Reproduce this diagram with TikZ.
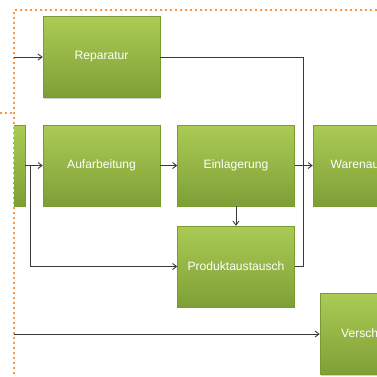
\documentclass[tikz,border=0pt]{standalone}
\usepackage{fontspec}
\setmainfont{Liberation Sans}
\usetikzlibrary{arrows.meta,shadows}
\definecolor{gtop}{HTML}{ABCB55}
\definecolor{gbot}{HTML}{7E9F36}
\definecolor{gedge}{HTML}{779A33}
\definecolor{orng}{HTML}{F79646}
\definecolor{linec}{HTML}{3A3A3A}
\tikzset{
  procbox/.style={rectangle, minimum width=117pt, minimum height=81pt, inner sep=0pt,
    top color=gtop, bottom color=gbot, draw=gedge, line width=0.5pt,
    text=white, font=\fontsize{12.1pt}{14pt}\selectfont,
    drop shadow={shadow xshift=0.8pt, shadow yshift=-1.2pt, opacity=0.35}},
  conn/.style={draw=linec, line width=0.9pt},
  arr/.style={conn, -{Straight Barb[length=4pt,width=6pt]}},
  dots/.style={draw=orng, line width=2.2pt, dash pattern=on 2.2pt off 2.8pt}
}
\begin{document}
\begin{tikzpicture}[x=1pt,y=-1pt]
\useasboundingbox (0,0) rectangle (377,376);
\clip (0,0) rectangle (377,376);
% dotted frame
\draw[dots] (377,10) -- (14,10) -- (14,377);
\draw[dots] (0,113) -- (14,113);
% boxes
\begin{scope}
\clip (14,100) rectangle (60,220);
\node[procbox] (left) at (-33.5,165.5) {};
\end{scope}
\node[procbox] (rep) at (101.5,57) {Reparatur};
\node[procbox] (auf) at (101.5,165.5) {Aufarbeitung};
\node[procbox] (ein) at (236,165.5) {Einlagerung};
\node[procbox] (war) at (371.5,165.5) {Warenausgang};
\node[procbox] (prod) at (236,266.5) {Produktaustausch};
\node[procbox] (ver) at (378.5,334) {Verschrottung};
% coordinates
\coordinate (inrep) at (14,57);
\coordinate (inver) at (14,334);
\coordinate (j1) at (303,266.5);
\coordinate (j2) at (30,165.5);
% connectors
\draw[arr] (inrep) -- (rep.west);
\draw[conn] (rep.east) -| (j1) -- (prod.east);
\draw[arr] (left.east) -- (auf.west);
\draw[arr] (j2) |- (prod.west);
\draw[arr] (auf.east) -- (ein.west);
\draw[arr] (ein.east) -- (war.west);
\draw[arr] (ein.south) -- (prod.north);
\draw[arr] (inver) -- (ver.west);
\end{tikzpicture}
\end{document}
